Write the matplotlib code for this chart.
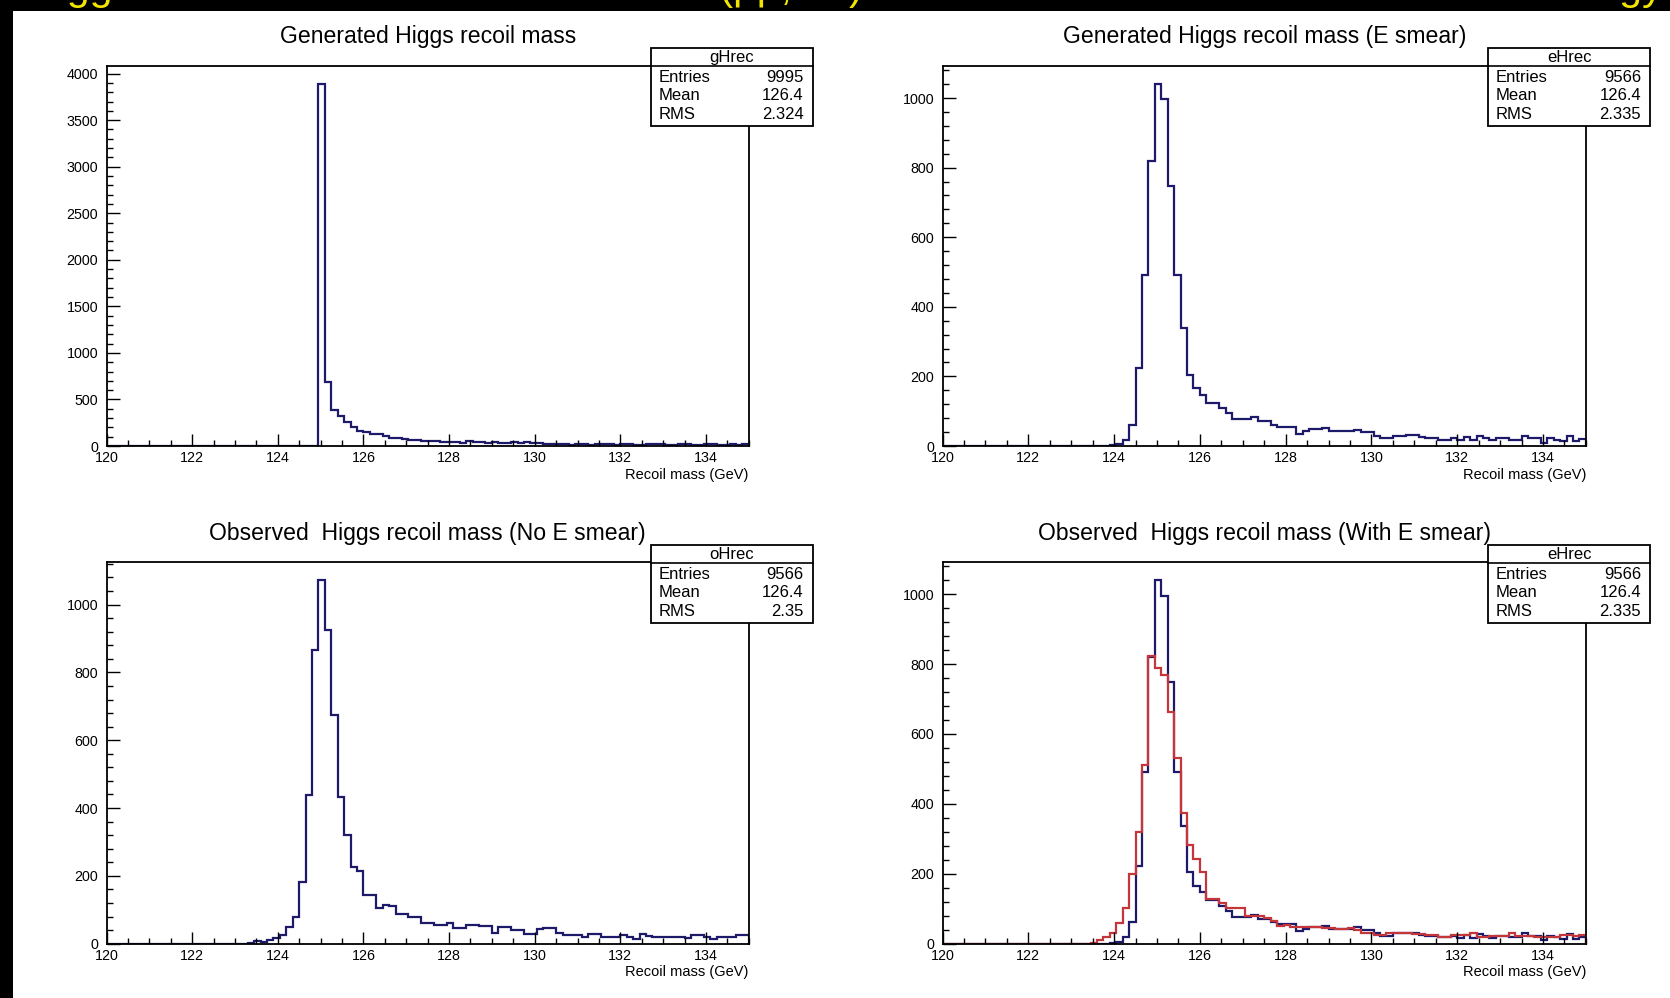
import numpy as np
import matplotlib.pyplot as plt
from matplotlib.patches import Rectangle
from matplotlib.lines import Line2D
from matplotlib.ticker import MultipleLocator

W, H = 1670, 998
plt.rcParams['font.family'] = ['Liberation Sans', 'DejaVu Sans']

# 100 bins of 0.15 GeV between 120 and 135 GeV
edges = np.linspace(120.0, 135.0, 101)

g_hrec = [0] * 33 + [
    3887, 683, 390, 320, 255, 200, 160, 150, 125, 130, 105, 90, 85, 75, 62, 60,
    57, 55, 58, 42, 38, 40, 37, 55, 40, 38, 36, 40, 37, 35, 38, 34, 48, 30, 32,
    22, 20,
    18, 20, 16, 22, 18, 15, 19, 17, 21, 14, 18, 20, 16, 15, 19, 17, 22, 14, 16,
    18, 20, 15, 13, 17, 19, 16, 14, 18, 15, 17]

e_hrec = [0] * 26 + [
    2, 5, 18, 61, 223, 490, 819, 1040, 996, 748, 490, 338,
    204, 166, 147, 125, 125, 109, 94, 77, 77, 77, 83, 71, 71, 61, 56, 56, 56,
    35, 42, 49, 49, 52, 42, 42, 42, 42, 47, 39, 39, 30, 23, 23, 30, 30, 32, 32,
    26, 23, 23, 18, 18, 23, 16, 26, 16, 28, 23, 16, 23, 23, 18, 18, 30, 23, 23,
    10, 23, 18, 13, 28, 13, 20]

o_hrec = [0] * 22 + [
    2, 8, 4, 11, 16, 26, 50, 80, 183, 439, 867, 1072, 926, 675, 432,
    321, 227, 213, 144, 144, 104, 114, 110, 88, 88, 80, 80, 62, 62, 55, 55, 60,
    45, 45, 55, 55, 52, 52, 32, 48, 48, 40, 40, 30, 30, 42, 45, 45, 32, 26, 26,
    26, 21, 28, 28, 21, 21, 19, 26, 19, 13, 30, 23, 21, 21, 21, 19, 19, 16, 26,
    26, 21, 13, 19, 19, 19, 26, 26]

r_hrec = [0] * 23 + [
    3, 11, 20, 30, 59, 102, 199, 320, 510, 822, 790, 770, 663, 532, 373, 281,
    242, 204,
    127, 127, 117, 102, 102, 102, 78, 78, 78, 73, 64, 51, 54, 49, 49, 49, 49, 49,
    44, 44, 42, 42, 44, 38, 30, 30, 25, 25, 32, 32, 32, 32, 28, 28, 25, 25, 20,
    20, 25, 25, 25, 30, 20, 20, 22, 22, 22, 30, 22, 22, 22, 20, 20, 18, 18, 25,
    25, 22, 25]

titles = ["Generated Higgs recoil mass",
          "Generated Higgs recoil mass (E smear)",
          "Observed  Higgs recoil mass (No E smear)",
          "Observed  Higgs recoil mass (With E smear)"]
stat_names = ["gHrec", "eHrec", "oHrec", "eHrec"]
stat_entries = [9995, 9566, 9566, 9566]
stat_means = ["126.4", "126.4", "126.4", "126.4"]
stat_rms = ["2.324", "2.335", "2.35", "2.335"]
y_major = [500, 200, 200, 200]

navy = "#1d1a6a"
red = "#c4363a"

fig = plt.figure(figsize=(W / 100, H / 100), dpi=100, facecolor="black")


def fx(px):
    return px / W


def fy(py):
    return 1 - py / H


# slide heading above the canvas, only its descenders reach into view
fig.text(fx(28), fy(0), "Higgs recoil mass distributions for ZH (μμ, ee) at 250 GeV "
         "with the smeared beam Energy", color="#f2e600", fontsize=29.6,
         ha="left", va="baseline", zorder=-2)
page = fig.add_axes([fx(13), 0, 1 - fx(13), 1 - 11 / H], zorder=-1)
page.set_facecolor("white")
page.set_xticks([])
page.set_yticks([])
for s in page.spines.values():
    s.set_visible(False)

boxes = [(106.5, 66, 642.3, 380), (942.6, 66, 643.3, 380),
         (106.5, 562, 642.3, 381.7), (942.6, 562, 643.3, 381.7)]
stat_pos = [(650.8, 48), (1488, 48), (650.8, 545), (1488, 545)]
series = [[(g_hrec, navy)], [(e_hrec, navy)], [(o_hrec, navy)],
          [(e_hrec, navy), (r_hrec, red)]]

for k, (left, top, w, h) in enumerate(boxes):
    ax = fig.add_axes([fx(left), fy(top + h), fx(w), h / H])
    for vals, col in series[k]:
        ax.stairs(vals, edges, color=col, lw=1.6, baseline=0)
    ax.set_xlim(120, 135)
    ax.set_ylim(0, 1.05 * max(series[k][0][0]))
    ax.xaxis.set_major_locator(MultipleLocator(2))
    ax.xaxis.set_minor_locator(MultipleLocator(0.5))
    ax.yaxis.set_major_locator(MultipleLocator(y_major[k]))
    ax.yaxis.set_minor_locator(MultipleLocator(y_major[k] / 5))
    ax.tick_params(which="both", direction="in", labelsize=10.3, width=1)
    ax.tick_params(axis="x", which="major", length=9, pad=3.5)
    ax.tick_params(axis="y", which="major", length=9, pad=6)
    ax.tick_params(which="minor", length=4.5)
    for s in ax.spines.values():
        s.set_linewidth(1.3)
    ax.set_xlabel("Recoil mass (GeV)", loc="right", fontsize=10.5, labelpad=2)
    ax.text(0.5, 1 + 29 / h, titles[k], transform=ax.transAxes,
            ha="center", va="center", fontsize=16.6)

    # statistics box
    sx, sy = stat_pos[k]
    bw, bh = 162, 78
    fig.add_artist(Rectangle((fx(sx), fy(sy + bh)), fx(bw), bh / H,
                             transform=fig.transFigure, facecolor="white",
                             edgecolor="black", lw=1.3, zorder=5))
    fig.add_artist(Line2D([fx(sx), fx(sx + bw)], [fy(sy + 18)] * 2,
                          transform=fig.transFigure, color="black", lw=1.2, zorder=6))
    fig.text(fx(sx + bw / 2), fy(sy + 9.5), stat_names[k], ha="center", va="center",
             fontsize=12, zorder=7)
    rows = [("Entries", str(stat_entries[k])), ("Mean", stat_means[k]), ("RMS", stat_rms[k])]
    for j, (lab, val) in enumerate(rows):
        yy = fy(sy + 29.7 + 18.2 * j)
        fig.text(fx(sx + 8), yy, lab, ha="left", va="center", fontsize=12, zorder=7)
        fig.text(fx(sx + bw - 9), yy, val, ha="right", va="center", fontsize=12, zorder=7)

fig.savefig("out.png", dpi=100, facecolor="black")
